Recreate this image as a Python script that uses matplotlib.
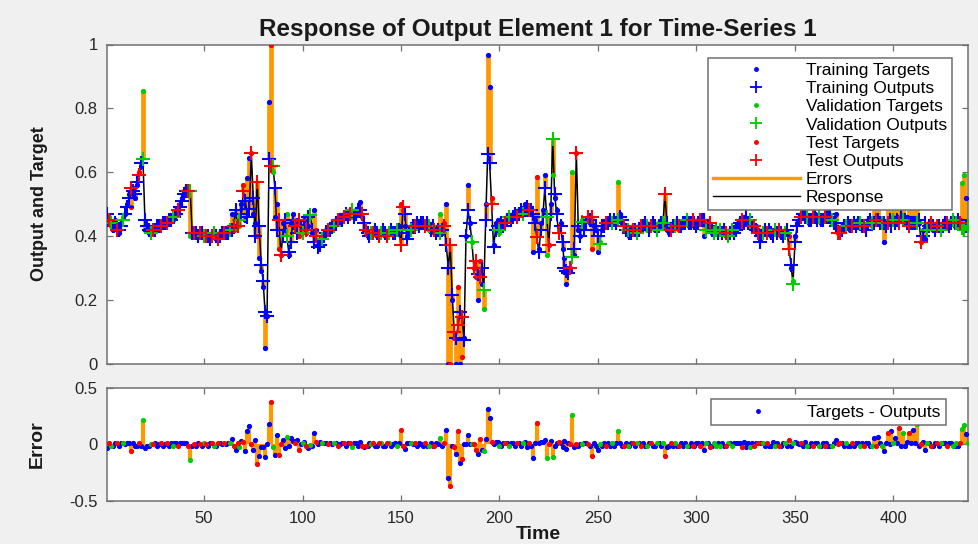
import matplotlib
matplotlib.use("Agg")
import matplotlib.pyplot as plt
import numpy as np
from matplotlib.lines import Line2D

plt.rcParams['font.family'] = ['Liberation Sans', 'DejaVu Sans']

# ---------------- data ----------------
targets = [
    0.44, 0.46, 0.43, 0.42, 0.45, 0.43, 0.41, 0.44, 0.46, 0.47,
    0.50, 0.53, 0.49, 0.55, 0.52, 0.56, 0.60, 0.62, 0.855, 0.42,
    0.42, 0.41, 0.41, 0.42, 0.43, 0.42, 0.43, 0.44, 0.43, 0.44,
    0.45, 0.44, 0.46, 0.45, 0.47, 0.48, 0.47, 0.50, 0.52, 0.54,
    0.55, 0.53, 0.40, 0.40, 0.41, 0.40, 0.41, 0.41, 0.40, 0.41,
    0.40, 0.39, 0.40, 0.41, 0.40, 0.39, 0.40, 0.41, 0.41, 0.42,
    0.41, 0.42, 0.43, 0.47, 0.42, 0.43, 0.44, 0.43, 0.50, 0.56,
    0.45, 0.58, 0.645, 0.66, 0.47, 0.44, 0.40, 0.33, 0.29, 0.24,
    0.05, 0.15, 0.82, 1.00, 0.60, 0.46, 0.50, 0.36, 0.34, 0.44,
    0.42, 0.47, 0.34, 0.44, 0.47, 0.44, 0.45, 0.40, 0.43, 0.42,
    0.45, 0.41, 0.43, 0.46, 0.41, 0.48, 0.42, 0.37, 0.39, 0.40,
    0.41, 0.42, 0.42, 0.43, 0.43, 0.44, 0.45, 0.44, 0.45, 0.46,
    0.47, 0.46, 0.47, 0.48, 0.46, 0.47, 0.48, 0.47, 0.505, 0.46,
    0.42, 0.41, 0.40, 0.41, 0.41, 0.42, 0.41, 0.40, 0.41, 0.42,
    0.41, 0.40, 0.41, 0.42, 0.41, 0.41, 0.42, 0.41, 0.43, 0.50,
    0.48, 0.43, 0.40, 0.42, 0.43, 0.43, 0.44, 0.43, 0.44, 0.44,
    0.43, 0.44, 0.43, 0.42, 0.43, 0.42, 0.41, 0.42, 0.42, 0.47,
    0.41, 0.44, 0.50, 0.00, 0.00, 0.20, 0.08, 0.00, 0.24, 0.00,
    0.02, 0.08, 0.40, 0.56, 0.44, 0.38, 0.30, 0.27, 0.20, 0.32,
    0.25, 0.17, 0.50, 0.966, 0.866, 0.52, 0.37, 0.44, 0.45, 0.41,
    0.43, 0.44, 0.45, 0.46, 0.45, 0.46, 0.47, 0.46, 0.47, 0.48,
    0.47, 0.48, 0.50, 0.47, 0.49, 0.47, 0.35, 0.45, 0.585, 0.36,
    0.44, 0.48, 0.59, 0.34, 0.37, 0.50, 0.59, 0.52, 0.48, 0.43,
    0.44, 0.36, 0.33, 0.25, 0.30, 0.30, 0.60, 0.34, 0.66, 0.42,
    0.40, 0.45, 0.43, 0.45, 0.46, 0.44, 0.36, 0.43, 0.42, 0.35,
    0.38, 0.42, 0.44, 0.43, 0.45, 0.44, 0.45, 0.44, 0.45, 0.57,
    0.47, 0.44, 0.42, 0.43, 0.41, 0.40, 0.42, 0.43, 0.41, 0.42,
    0.43, 0.42, 0.44, 0.43, 0.42, 0.43, 0.44, 0.43, 0.42, 0.43,
    0.44, 0.43, 0.45, 0.43, 0.42, 0.41, 0.43, 0.42, 0.44, 0.43,
    0.42, 0.44, 0.43, 0.45, 0.44, 0.43, 0.45, 0.44, 0.43, 0.44,
    0.45, 0.44, 0.46, 0.40, 0.43, 0.44, 0.42, 0.41, 0.42, 0.41,
    0.42, 0.41, 0.42, 0.41, 0.40, 0.41, 0.42, 0.41, 0.42, 0.43,
    0.44, 0.45, 0.43, 0.46, 0.44, 0.45, 0.43, 0.44, 0.42, 0.43,
    0.42, 0.39, 0.41, 0.42, 0.41, 0.42, 0.41, 0.40, 0.42, 0.41,
    0.42, 0.41, 0.40, 0.41, 0.42, 0.41, 0.40, 0.30, 0.26, 0.40,
    0.44, 0.45, 0.47, 0.46, 0.48, 0.45, 0.44, 0.46, 0.45, 0.47,
    0.46, 0.45, 0.44, 0.46, 0.45, 0.47, 0.46, 0.45, 0.44, 0.45,
    0.47, 0.41, 0.42, 0.43, 0.42, 0.44, 0.43, 0.42, 0.44, 0.43,
    0.44, 0.45, 0.43, 0.44, 0.42, 0.43, 0.45, 0.44, 0.43, 0.50,
    0.44, 0.52, 0.45, 0.43, 0.38, 0.44, 0.54, 0.45, 0.55, 0.46,
    0.50, 0.46, 0.59, 0.45, 0.55, 0.44, 0.46, 0.53, 0.45, 0.57,
    0.45, 0.62, 0.44, 0.38, 0.42, 0.39, 0.43, 0.44, 0.43, 0.42,
    0.43, 0.44, 0.42, 0.43, 0.44, 0.45, 0.43, 0.44, 0.45, 0.44,
    0.43, 0.45, 0.44, 0.45, 0.565, 0.59, 0.52, 0.44,
]

outputs = [
    0.47, 0.45, 0.44, 0.43, 0.44, 0.42, 0.42, 0.43, 0.45, 0.47,
    0.49, 0.52, 0.55, 0.54, 0.53, 0.57, 0.59, 0.63, 0.64, 0.45,
    0.43, 0.42, 0.41, 0.42, 0.42, 0.43, 0.43, 0.43, 0.44, 0.44,
    0.44, 0.45, 0.45, 0.46, 0.46, 0.47, 0.48, 0.49, 0.51, 0.53,
    0.54, 0.54, 0.54, 0.41, 0.41, 0.41, 0.40, 0.41, 0.41, 0.40,
    0.40, 0.40, 0.39, 0.40, 0.41, 0.40, 0.39, 0.40, 0.41, 0.41,
    0.41, 0.41, 0.42, 0.42, 0.43, 0.48, 0.43, 0.45, 0.47, 0.54,
    0.51, 0.46, 0.485, 0.66, 0.52, 0.40, 0.57, 0.43, 0.31, 0.26,
    0.16, 0.15, 0.64, 0.62, 0.62, 0.55, 0.42, 0.45, 0.34, 0.40,
    0.45, 0.40, 0.35, 0.38, 0.44, 0.43, 0.41, 0.45, 0.43, 0.41,
    0.43, 0.42, 0.46, 0.465, 0.42, 0.38, 0.40, 0.365, 0.37, 0.39,
    0.40, 0.41, 0.42, 0.42, 0.43, 0.43, 0.44, 0.45, 0.45, 0.45,
    0.46, 0.47, 0.46, 0.47, 0.48, 0.46, 0.47, 0.48, 0.48, 0.47,
    0.44, 0.42, 0.41, 0.40, 0.41, 0.41, 0.42, 0.41, 0.40, 0.41,
    0.42, 0.41, 0.40, 0.41, 0.42, 0.41, 0.41, 0.42, 0.42, 0.37,
    0.49, 0.47, 0.39, 0.41, 0.42, 0.43, 0.43, 0.44, 0.43, 0.44,
    0.44, 0.43, 0.44, 0.43, 0.42, 0.43, 0.42, 0.41, 0.42, 0.41,
    0.42, 0.43, 0.37, 0.30, 0.37, 0.215, 0.10, 0.08, 0.12, 0.16,
    0.145, 0.075, 0.40, 0.48, 0.44, 0.38, 0.30, 0.32, 0.28, 0.27,
    0.30, 0.23, 0.45, 0.656, 0.63, 0.50, 0.365, 0.42, 0.43, 0.42,
    0.44, 0.43, 0.44, 0.45, 0.46, 0.45, 0.46, 0.47, 0.46, 0.47,
    0.48, 0.47, 0.48, 0.49, 0.48, 0.48, 0.47, 0.44, 0.395, 0.35,
    0.42, 0.46, 0.55, 0.46, 0.37, 0.47, 0.705, 0.53, 0.47, 0.41,
    0.43, 0.38, 0.30, 0.29, 0.285, 0.30, 0.335, 0.36, 0.66, 0.43,
    0.40, 0.445, 0.42, 0.44, 0.46, 0.45, 0.46, 0.42, 0.43, 0.40,
    0.375, 0.43, 0.43, 0.44, 0.44, 0.45, 0.44, 0.45, 0.44, 0.45,
    0.46, 0.45, 0.43, 0.42, 0.42, 0.41, 0.41, 0.42, 0.42, 0.41,
    0.42, 0.43, 0.43, 0.44, 0.43, 0.42, 0.43, 0.44, 0.43, 0.42,
    0.43, 0.44, 0.44, 0.53, 0.44, 0.42, 0.42, 0.43, 0.43, 0.44,
    0.43, 0.43, 0.44, 0.44, 0.45, 0.44, 0.44, 0.45, 0.44, 0.43,
    0.44, 0.45, 0.45, 0.45, 0.42, 0.43, 0.44, 0.42, 0.41, 0.42,
    0.41, 0.42, 0.41, 0.42, 0.41, 0.40, 0.41, 0.42, 0.41, 0.42,
    0.43, 0.44, 0.45, 0.44, 0.46, 0.44, 0.45, 0.43, 0.43, 0.42,
    0.41, 0.38, 0.40, 0.41, 0.42, 0.41, 0.42, 0.41, 0.40, 0.42,
    0.41, 0.42, 0.41, 0.40, 0.41, 0.42, 0.36, 0.31, 0.25, 0.38,
    0.43, 0.45, 0.46, 0.47, 0.46, 0.46, 0.45, 0.45, 0.46, 0.46,
    0.45, 0.46, 0.45, 0.45, 0.46, 0.46, 0.47, 0.46, 0.45, 0.44,
    0.43, 0.41, 0.41, 0.42, 0.43, 0.43, 0.44, 0.43, 0.43, 0.44,
    0.43, 0.44, 0.44, 0.43, 0.43, 0.42, 0.44, 0.45, 0.44, 0.44,
    0.45, 0.45, 0.44, 0.44, 0.44, 0.43, 0.44, 0.45, 0.43, 0.45,
    0.44, 0.45, 0.44, 0.46, 0.45, 0.45, 0.44, 0.43, 0.44, 0.44,
    0.44, 0.44, 0.45, 0.38, 0.40, 0.44, 0.42, 0.43, 0.44, 0.43,
    0.42, 0.43, 0.43, 0.42, 0.43, 0.44, 0.44, 0.43, 0.44, 0.45,
    0.44, 0.44, 0.45, 0.44, 0.425, 0.42, 0.43, 0.43,
]

# data division: t = training, v = validation, s = test
division = "".join([
    "tsvttsttvt", "ttstttstvt", "ttvstttstt", "sttvttsttt", "tsvtsttstv",
    "sttsvtstts", "ttvtstsvts", "tttsttsttt", "tttsvttsst", "tvtttststv",
    "tstvttsttv", "ttsttvtstt", "sttsvtttts", "tsttvsttsv", "ttsvtttvts",
    "stttvtsttt", "tstvttsttv", "tsttststst", "sttttvssts", "tvtttstttv",
    "ttstvtttst", "tvttstttst", "tttvstvtts", "tttttsvtst", "tvttststtt",
    "vttsttvttv", "ttstvttstv", "tsttvtsttv", "ttvsttstvt", "stttvttstt",
    "tsttvtstvv", "tvttsvtvtt", "ttstttvtst", "sttvtstttv", "tsttvtstvt",
    "ttsttvttst", "tvttstttvt", "tssttvttst", "ttvtstttvt", "sttvttsttv",
    "ttstvttstt", "tvtsttvtst", "tstvttsttv", "tvtsvvtv",
])

n = min(len(targets), len(outputs), len(division))
time = np.arange(1, n + 1)
T = np.array(targets[:n])
O = np.array(outputs[:n])
D = np.array(list(division[:n]))
E = T - O

set_info = [("t", "Training", (0, 0, 1)),
            ("v", "Validation", (0, 0.8, 0)),
            ("s", "Test", (1, 0, 0))]
orange = (1.0, 0.6, 0.0)

# ---------------- figure ----------------
W, H = 979, 544
fig = plt.figure(figsize=(W / 100, H / 100), dpi=100, facecolor="#f0f0f0")
L, R = 107.5, 968.3
ax1 = fig.add_axes([L / W, 1 - 363.5 / H, (R - L) / W, (363.5 - 44.5) / H])
ax2 = fig.add_axes([L / W, 1 - 501.0 / H, (R - L) / W, (501.0 - 388.0) / H])

# top: response
ax1.vlines(time, T, O, colors=[orange], lw=3.4, zorder=1)
ax1.plot(time, O, color="k", lw=1.1, zorder=2)
for code, name, col in set_info:
    m = D == code
    ax1.plot(time[m], T[m], ".", color=col, ms=5.5, zorder=3)
    ax1.plot(time[m], O[m], "+", color=col, ms=9.5, mew=1.5, zorder=4)

# bottom: errors
ax2.vlines(time, 0, E, colors=[orange], lw=3.0, zorder=1)
for code, name, col in set_info:
    m = D == code
    ax2.plot(time[m], E[m], ".", color=col, ms=5.5, zorder=3)

edge = "#707070"
for ax in (ax1, ax2):
    ax.set_facecolor("white")
    ax.set_xlim(1, n)
    for s in ax.spines.values():
        s.set_color(edge)
        s.set_linewidth(1.1)
    ax.tick_params(direction="in", length=4, width=0.9, color=edge,
                   top=True, right=True, labelsize=12, labelcolor="#262626")
    ax.set_xticks([50, 100, 150, 200, 250, 300, 350, 400])
    ax.tick_params(axis="x", pad=7)
    ax.tick_params(axis="y", pad=7)

ax1.set_ylim(0, 1)
ax1.set_yticks([0, 0.2, 0.4, 0.6, 0.8, 1])
ax1.set_yticklabels(["0", "0.2", "0.4", "0.6", "0.8", "1"])
ax1.set_xticklabels([])
ax2.set_ylim(-0.5, 0.5)
ax2.set_yticks([-0.5, 0, 0.5])
ax2.set_yticklabels(["-0.5", "0", "0.5"])

ax1.set_title("Response of Output Element 1 for Time-Series 1",
              fontsize=17.5, fontweight="bold", pad=6, color="#1a1a1a")
ax1.set_ylabel("Output and Target", fontsize=13, fontweight="bold", color="#1a1a1a")
ax1.yaxis.set_label_coords(-0.069, 0.5)
ax2.set_ylabel("Error", fontsize=14, fontweight="bold", color="#1a1a1a")
ax2.yaxis.set_label_coords(-0.072, 0.5)
ax2.set_xlabel("Time", fontsize=14, fontweight="bold", color="#1a1a1a")
ax2.xaxis.set_label_coords(0.5, -0.225)

handles = []
for code, name, col in set_info:
    handles.append(Line2D([], [], ls="none", marker=".", ms=5, color=col,
                          label=f"{name} Targets"))
    handles.append(Line2D([], [], ls="none", marker="+", ms=9, mew=1.3,
                          color=col, label=f"{name} Outputs"))
handles.append(Line2D([], [], color=orange, lw=2.4, label="Errors"))
handles.append(Line2D([], [], color="k", lw=1.0, label="Response"))
leg1 = ax1.legend(handles=handles, loc="upper right",
                  bbox_to_anchor=(0.981, 0.958), borderaxespad=0,
                  fontsize=12.5, frameon=True, fancybox=False, framealpha=1,
                  edgecolor=edge, handlelength=5.0, handletextpad=0.35,
                  labelspacing=0.17, borderpad=0.3)
leg1.get_frame().set_linewidth(1.1)
leg1.set_zorder(10)

h2 = [Line2D([], [], ls="none", marker=".", ms=5, color=(0, 0, 1),
             label="Targets - Outputs")]
leg2 = ax2.legend(handles=h2, loc="upper right", bbox_to_anchor=(0.974, 0.90),
                  borderaxespad=0, fontsize=12.5, frameon=True, fancybox=False,
                  framealpha=1, edgecolor=edge, handlelength=4.8,
                  handletextpad=0.45, borderpad=0.3)
leg2.get_frame().set_linewidth(1.1)

fig.savefig("out.png", dpi=100, facecolor=fig.get_facecolor())
